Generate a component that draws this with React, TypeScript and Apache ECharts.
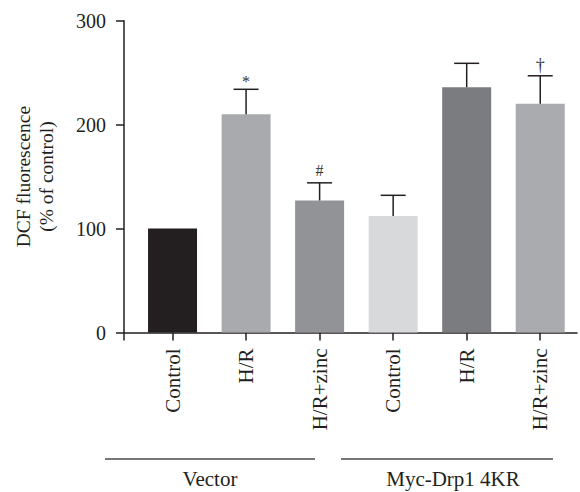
import React, { useEffect, useRef } from "react";
import * as echarts from "echarts";

const categories = ["Control", "H/R", "H/R+zinc", "Control", "H/R", "H/R+zinc"];
const means = [100, 210, 127, 112, 236, 220];
const errors = [0, 24, 17, 20, 23, 27];
const marks = ["", "*", "#", "", "", "†"];
const barColors = ["#231f20", "#a9aaad", "#929396", "#d8d9db", "#7b7c80", "#aaabae"];
const groups = ["Vector", "Myc-Drp1 4KR"];
const yTicks = [0, 100, 200, 300];

const FONT = "Liberation Serif";
const INK = "#231f20";

export default function App() {
  const ref = useRef<HTMLDivElement>(null);
  useEffect(() => {
    document.body.style.margin = "0";
    const chart = echarts.init(ref.current!, null, { renderer: "svg" });
    const markOffset: Record<string, number> = { "*": 8, "#": 12, "†": 11 };
    const errData = means
      .map((m, i) => [i, m, errors[i]])
      .filter((d) => d[2] > 0);
    chart.setOption({
      animation: false,
      backgroundColor: "#ffffff",
      textStyle: { fontFamily: FONT },
      grid: { left: 124, right: 3, top: 20.7, bottom: 159.5, outerBoundsMode: "none" },
      xAxis: {
        type: "value",
        min: -0.66,
        max: 5.5,
        splitLine: { show: false },
        axisLine: { show: true, onZero: false, lineStyle: { color: INK, width: 1.5 } },
        axisTick: {
          show: true,
          length: 8,
          customValues: [-0.66, 0, 1, 2, 3, 4, 5],
          lineStyle: { color: INK, width: 1.5 },
        },
        axisLabel: {
          customValues: [0, 1, 2, 3, 4, 5],
          formatter: (v: number) => categories[Math.round(v)],
          rotate: 90,
          margin: 16,
          fontFamily: FONT,
          fontSize: 21,
          color: INK,
        },
      },
      yAxis: {
        type: "value",
        min: yTicks[0],
        max: yTicks[yTicks.length - 1],
        interval: 100,
        name: "DCF fluorescence\n(% of control)",
        nameLocation: "middle",
        nameGap: 66,
        nameRotate: 90,
        nameTextStyle: { fontFamily: FONT, fontSize: 19.5, lineHeight: 23, color: INK, align: "center" },
        splitLine: { show: false },
        axisLine: { show: true, onZero: false, lineStyle: { color: INK, width: 1.5 } },
        axisTick: { show: true, length: 8, lineStyle: { color: INK, width: 1.5 } },
        axisLabel: { margin: 18, fontFamily: FONT, fontSize: 20, color: INK },
      },
      series: [
        {
          type: "bar",
          barWidth: 49,
          data: means.map((m, i) => ({ value: [i, m], itemStyle: { color: barColors[i] } })),
        },
        {
          type: "custom",
          z: 5,
          data: errData,
          renderItem: (params: any, api: any) => {
            const x = api.value(0);
            const m = api.value(1);
            const e = api.value(2);
            const base = api.coord([x, m]);
            const top = api.coord([x, m + e]);
            const children: any[] = [
              {
                type: "line",
                shape: { x1: base[0], y1: base[1], x2: top[0], y2: top[1] },
                style: { stroke: INK, lineWidth: 1.5 },
              },
              {
                type: "line",
                shape: { x1: top[0] - 12.5, y1: top[1], x2: top[0] + 12.5, y2: top[1] },
                style: { stroke: INK, lineWidth: 1.5 },
              },
            ];
            const mk = marks[Math.round(x)];
            if (mk) {
              children.push({
                type: "text",
                x: top[0],
                y: top[1] - (markOffset[mk] || 10),
                style: {
                  text: mk,
                  fontFamily: FONT,
                  fontSize: mk === "†" ? 18 : 16,
                  fill: "#333333",
                  align: "center",
                  verticalAlign: "middle",
                },
              });
            }
            return { type: "group", children };
          },
        },
      ],
      graphic: [
        { type: "line", shape: { x1: 105, y1: 459, x2: 315, y2: 459 }, style: { stroke: "#4a4a4a", lineWidth: 1.5 } },
        { type: "line", shape: { x1: 341, y1: 459, x2: 553, y2: 459 }, style: { stroke: "#4a4a4a", lineWidth: 1.5 } },
        {
          type: "text",
          x: 210,
          y: 479,
          style: { text: groups[0], fontFamily: FONT, fontSize: 21, fill: INK, align: "center", verticalAlign: "middle" },
        },
        {
          type: "text",
          x: 453,
          y: 479,
          style: { text: groups[1], fontFamily: FONT, fontSize: 21, fill: INK, align: "center", verticalAlign: "middle" },
        },
      ],
    });
    return () => chart.dispose();
  }, []);
  return <div ref={ref} style={{ width: 580, height: 492 }} />;
}
